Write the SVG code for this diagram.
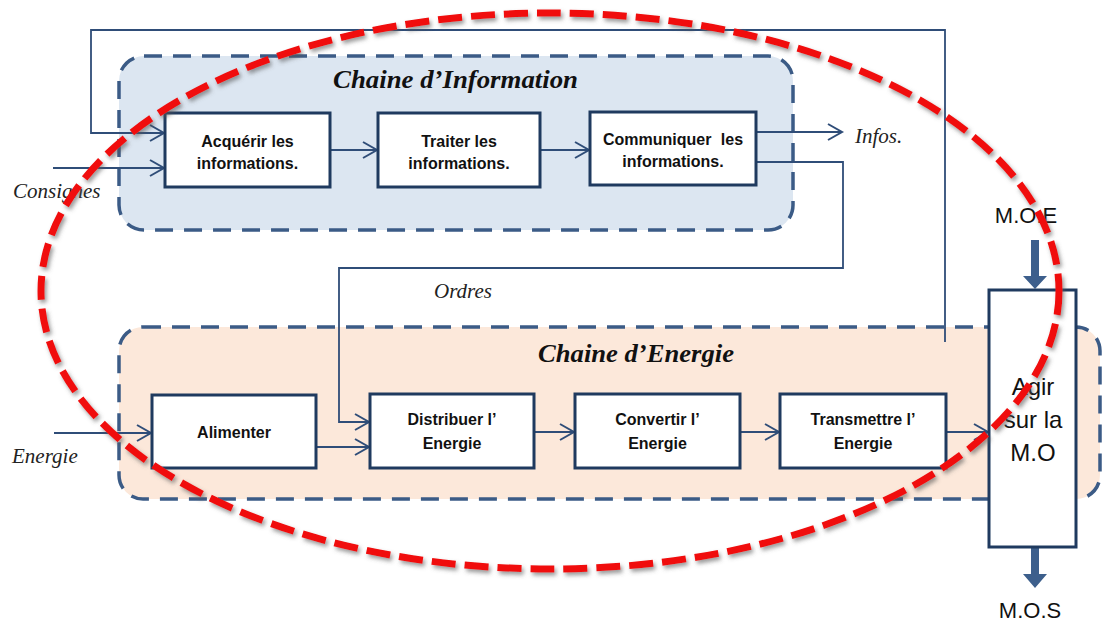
<svg xmlns="http://www.w3.org/2000/svg" width="1104" height="623" viewBox="0 0 1104 623">
<style>
.cont{stroke:#3b5b86;stroke-width:3.5;stroke-dasharray:18 11;}
.box{fill:#ffffff;stroke:#1f3a5f;stroke-width:3;}
.wire{fill:none;stroke:#2f4d78;stroke-width:1.8;}
.btxt{font-family:"Liberation Sans",Arial,sans-serif;font-weight:bold;font-size:16px;fill:#111;text-anchor:middle;}
.lbl{font-family:"Liberation Serif","Times New Roman",serif;font-style:italic;font-size:21px;fill:#222;}
.title{font-family:"Liberation Serif","Times New Roman",serif;font-style:italic;font-weight:bold;font-size:25px;fill:#111;}
.big{font-family:"Liberation Sans",Arial,sans-serif;font-size:22px;fill:#111;text-anchor:middle;}
.agir{font-family:"Liberation Sans",Arial,sans-serif;font-size:24px;fill:#111;text-anchor:middle;}
.thick{fill:#3d5f8c;}
</style>
<defs>
<marker id="arr" markerUnits="userSpaceOnUse" markerWidth="20" markerHeight="20" refX="15" refY="9" orient="auto">
<path d="M1,1 L15,9 L1,17" fill="none" stroke="#2f4d78" stroke-width="2"/>
</marker>
<filter id="shadow" x="-10%" y="-10%" width="120%" height="120%">
<feDropShadow dx="2" dy="3" stdDeviation="2" flood-color="#555" flood-opacity="0.6"/>
</filter>
</defs>
<rect width="1104" height="623" fill="#ffffff"/>

<g id="chaine-information">
<rect class="cont" x="119" y="56" width="674" height="174" rx="25" fill="#dce6f1"/>
<text class="title" x="333" y="88" textLength="245" lengthAdjust="spacingAndGlyphs">Chaine d’Information</text>
</g>
<g id="chaine-energie">
<rect class="cont" x="119" y="327" width="981" height="172" rx="24" fill="#fce8da"/>
<text class="title" x="538" y="362" textLength="196" lengthAdjust="spacingAndGlyphs">Chaine d’Energie</text>
</g>

<g id="connectors">
<polyline class="wire" points="945,342 945,30 91,30 91,133 164,133" marker-end="url(#arr)"/>
<line class="wire" x1="53" y1="168" x2="164" y2="168" marker-end="url(#arr)"/>
<line class="wire" x1="330" y1="150" x2="377" y2="150" marker-end="url(#arr)"/>
<line class="wire" x1="540" y1="150" x2="589" y2="150" marker-end="url(#arr)"/>
<line class="wire" x1="756" y1="132" x2="842" y2="132" marker-end="url(#arr)"/>
<polyline class="wire" points="756,162 843,162 843,268 339,268 339,422 369,422" marker-end="url(#arr)"/>
<line class="wire" x1="54" y1="433" x2="151" y2="433" marker-end="url(#arr)"/>
<line class="wire" x1="315" y1="447" x2="369" y2="447" marker-end="url(#arr)"/>
<line class="wire" x1="534" y1="432" x2="574" y2="432" marker-end="url(#arr)"/>
<line class="wire" x1="740" y1="432" x2="779" y2="432" marker-end="url(#arr)"/>
<line class="wire" x1="946" y1="432" x2="988" y2="432" marker-end="url(#arr)"/>
<path class="thick" d="M1031,240 H1039 V276 H1047 L1035,289 L1023,276 H1031 Z"/>
<path class="thick" d="M1031,548 H1039 V574 H1047 L1035,588 L1023,574 H1031 Z"/>
</g>

<g id="labels">
<text class="lbl" x="13" y="198">Consignes</text>
<text class="lbl" x="855" y="143">Infos.</text>
<text class="lbl" x="434" y="298">Ordres</text>
<text class="lbl" x="12" y="463">Energie</text>
<text class="big" x="1026" y="223">M.O.E</text>
<text class="big" x="1030" y="618">M.O.S</text>
</g>

<g id="acquerir">
<rect class="box" x="165" y="113" width="165" height="74"/>
<text class="btxt" x="247.5" y="147">Acquérir les</text>
<text class="btxt" x="247.5" y="169">informations.</text>
</g>
<g id="traiter">
<rect class="box" x="378" y="113" width="162" height="74"/>
<text class="btxt" x="459" y="147">Traiter les</text>
<text class="btxt" x="459" y="169">informations.</text>
</g>
<g id="communiquer">
<rect class="box" x="590" y="112" width="166" height="73"/>
<text class="btxt" x="673" y="145" word-spacing="5">Communiquer les</text>
<text class="btxt" x="673" y="167">informations.</text>
</g>
<g id="alimenter">
<rect class="box" x="152" y="395" width="164" height="73"/>
<text class="btxt" x="234" y="438">Alimenter</text>
</g>
<g id="distribuer">
<rect class="box" x="370" y="394" width="164" height="74"/>
<text class="btxt" x="452" y="425">Distribuer l’</text>
<text class="btxt" x="452" y="449">Energie</text>
</g>
<g id="convertir">
<rect class="box" x="575" y="394" width="165" height="74"/>
<text class="btxt" x="657.5" y="425">Convertir l’</text>
<text class="btxt" x="657.5" y="449">Energie</text>
</g>
<g id="transmettre">
<rect class="box" x="780" y="394" width="166" height="74"/>
<text class="btxt" x="863" y="425">Transmettre l’</text>
<text class="btxt" x="863" y="449">Energie</text>
</g>
<g id="agir">
<rect class="box" x="989" y="290" width="87" height="257"/>
<text class="agir" x="1033" y="395">Agir</text>
<text class="agir" x="1033" y="428">sur la</text>
<text class="agir" x="1033" y="461">M.O</text>
</g>

<g id="ellipse-marque">
<ellipse cx="550" cy="291" rx="509" ry="278" fill="none" stroke="#f01010" stroke-width="7" stroke-dasharray="24 9" filter="url(#shadow)"/>
</g>
</svg>
